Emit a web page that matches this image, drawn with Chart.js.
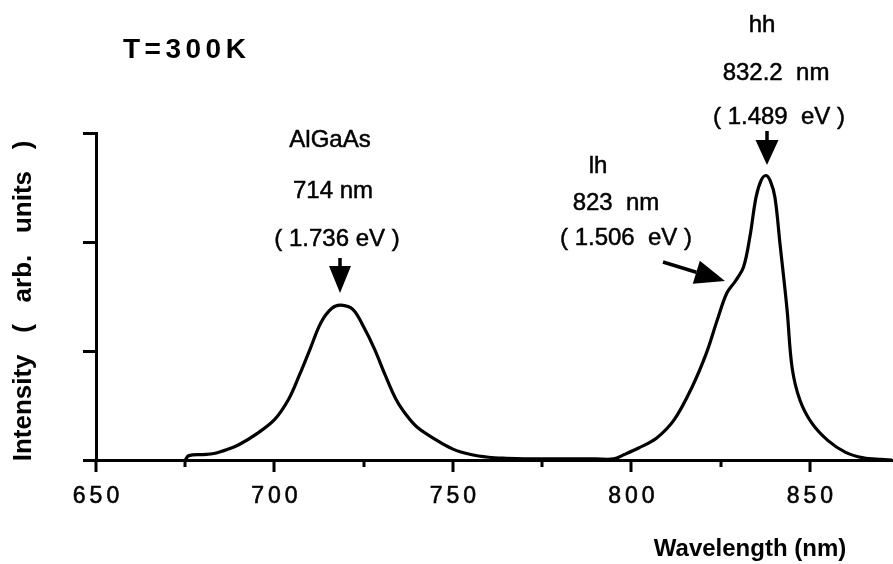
<!DOCTYPE html>
<html>
<head>
<meta charset="utf-8">
<script src="https://cdn.jsdelivr.net/npm/chart.js@4"></script>
<style>
  html, body { margin: 0; padding: 0; background: #fff; }
  #spectrum { display: block; }
</style>
</head>
<body>
<canvas id="spectrum" width="893" height="564"></canvas>
<script>
// PL spectrum (arb. units, one y tick = 1)
const wavelength = [675, 676, 680, 683, 687, 690, 695, 700, 704, 707, 710, 713, 716, 718.6, 722, 725, 728, 731, 734, 737, 740, 745, 750, 755, 760, 765, 770, 780, 790, 795, 798, 802, 807, 812, 817, 821, 824, 826.7, 829.1, 831.4, 833.2, 834.9, 836.4, 837.7, 838.9, 840.2, 841.6, 843.6, 845, 847.2, 850.5, 855, 860, 865, 870, 873];
const intensity = [0.0, 0.04, 0.05, 0.06, 0.1, 0.14, 0.24, 0.37, 0.56, 0.78, 1.02, 1.26, 1.39, 1.42, 1.38, 1.22, 1.02, 0.78, 0.56, 0.41, 0.30, 0.19, 0.10, 0.05, 0.025, 0.015, 0.01, 0.01, 0.01, 0.01, 0.05, 0.11, 0.20, 0.37, 0.67, 0.98, 1.28, 1.53, 1.64, 1.77, 2.05, 2.41, 2.57, 2.61, 2.56, 2.41, 1.99, 1.38, 0.85, 0.55, 0.34, 0.18, 0.07, 0.02, 0.005, 0.0];

const majorTicks = [650, 700, 750, 800, 850];
const minorTicks = [675, 725, 775, 825];
const yTicks = [0, 1, 2, 3];

const FONT = '"Liberation Sans", Arial, Helvetica, sans-serif';

// peak labels: text, center x, baseline y (px)
const notes = [
  ['AlGaAs', 330, 147],
  ['714 nm', 333, 198],
  ['( 1.736 eV )', 337, 246],
  ['hh', 762, 32],
  ['832.2  nm', 776, 80],
  ['( 1.489  eV )', 779, 124],
  ['lh', 598, 173],
  ['823  nm', 616, 210],
  ['( 1.506  eV )', 626, 245],
];

// scanned print looks heavier, so give glyphs a thin outline
function drawText(ctx, str, x, y, font, spacing, align, outline) {
  ctx.font = font;
  ctx.letterSpacing = spacing + 'px';
  ctx.textAlign = align || 'center';
  const px = align === 'left' ? x : x + spacing / 2;
  ctx.fillText(str, px, y);
  if (outline) {
    ctx.lineWidth = outline;
    ctx.strokeText(str, px, y);
  }
}

function arrow(ctx, x1, y1, x2, y2, headLen, headHalf) {
  const a = Math.atan2(y2 - y1, x2 - x1);
  const bx = x2 - Math.cos(a) * headLen, by = y2 - Math.sin(a) * headLen;
  ctx.lineWidth = 3.5;
  ctx.beginPath();
  ctx.moveTo(x1, y1);
  ctx.lineTo(bx, by);
  ctx.stroke();
  ctx.beginPath();
  ctx.moveTo(x2, y2);
  ctx.lineTo(bx + Math.sin(a) * headHalf, by - Math.cos(a) * headHalf);
  ctx.lineTo(bx - Math.sin(a) * headHalf, by + Math.cos(a) * headHalf);
  ctx.closePath();
  ctx.fill();
}

const decorations = {
  id: 'decorations',
  afterDraw(chart) {
    const { ctx, scales: { x } } = chart;
    const base = chart.chartArea.bottom;
    ctx.save();
    ctx.strokeStyle = '#000';
    ctx.fillStyle = '#000';
    ctx.textBaseline = 'alphabetic';

    // x tick marks, long on the labelled ones
    majorTicks.concat(minorTicks).forEach(v => {
      const px = Math.round(x.getPixelForValue(v));
      const len = majorTicks.includes(v) ? 12 : 7;
      ctx.lineWidth = 3;
      ctx.beginPath();
      ctx.moveTo(px, base);
      ctx.lineTo(px, base + len);
      ctx.stroke();
    });
    majorTicks.forEach(v => {
      drawText(ctx, String(v), x.getPixelForValue(v), 503, '23px ' + FONT, 4, 'center', 0.6);
    });

    drawText(ctx, 'Wavelength (nm)', 750, 556, 'bold 24px ' + FONT, 0);
    drawText(ctx, 'T=300K', 123, 58, 'bold 28px ' + FONT, 4.5, 'left');

    ctx.save();
    ctx.translate(31, 301);
    ctx.rotate(-Math.PI / 2);
    drawText(ctx, 'Intensity   (   arb.   units   )', 0, 0, 'bold 26px ' + FONT, 0);
    ctx.restore();

    notes.forEach(([str, cx, by]) => drawText(ctx, str, cx, by, '24px ' + FONT, 0, 'center', 0.5));

    // arrows onto the peaks
    arrow(ctx, 340, 258, 340, 293, 27, 11);
    arrow(ctx, 767, 131, 767, 165, 25, 11.5);
    arrow(ctx, 663, 262, 725, 281, 30, 12);
    ctx.restore();
  }
};

new Chart(document.getElementById('spectrum'), {
  type: 'line',
  data: {
    datasets: [{
      data: wavelength.map((w, i) => ({ x: w, y: intensity[i] })),
      borderColor: '#000',
      borderWidth: 3.2,
      pointRadius: 0,
      fill: false,
      tension: 0.35,
    }],
  },
  options: {
    responsive: false,
    animation: false,
    devicePixelRatio: 1,
    layout: { padding: { top: 133, right: 1, left: 0, bottom: 0 } },
    plugins: { legend: { display: false }, tooltip: { enabled: false } },
    scales: {
      x: {
        type: 'linear',
        min: 650,
        max: 873,
        ticks: { display: false },
        grid: { display: false },
        border: { display: true, color: '#000', width: 3 },
        afterFit: s => { s.height = 104; },
      },
      y: {
        min: 0,
        max: 3,
        afterBuildTicks: s => { s.ticks = yTicks.map(v => ({ value: v })); },
        ticks: { display: false },
        grid: { drawOnChartArea: false, drawTicks: true, tickLength: 13, color: '#000', lineWidth: 3 },
        border: { display: true, color: '#000', width: 3 },
        afterFit: s => { s.width = 96; },
      },
    },
  },
  plugins: [decorations],
});
</script>
</body>
</html>
